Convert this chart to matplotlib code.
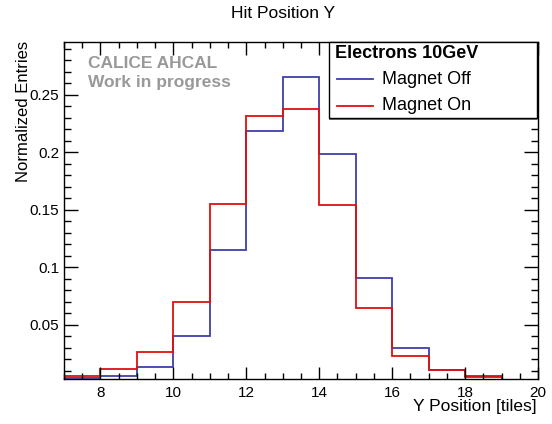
import matplotlib
matplotlib.use("Agg")
import matplotlib.pyplot as plt
from matplotlib.ticker import MultipleLocator, FixedLocator
from matplotlib.patches import Rectangle
from matplotlib.lines import Line2D

plt.rcParams['font.family'] = ['Liberation Sans', 'DejaVu Sans']

bin_edges = [7, 8, 9, 10, 11, 12, 13, 14, 15, 16, 17, 18, 19, 20]
magnet_off = [0.004, 0.006, 0.0138, 0.0404, 0.1155, 0.219, 0.2654, 0.1987, 0.0911, 0.0297, 0.0111, 0.0056, 0.002]
magnet_on = [0.006, 0.0117, 0.0265, 0.0703, 0.155, 0.232, 0.238, 0.1546, 0.0645, 0.023, 0.0106, 0.005, 0.002]
y_ticks = [0.05, 0.1, 0.15, 0.2, 0.25]
y_tick_labels = ["0.05", "0.1", "0.15", "0.2", "0.25"]
x_ticks = [8, 10, 12, 14, 16, 18, 20]

W, H = 552, 424
def fx(px):
    return px / W
def fy(py):
    return 1 - py / H

fig = plt.figure(figsize=(5.52, 4.24), dpi=100)
ax = fig.add_axes([fx(64), fy(379), (538-64)/W, (379-42)/H])

blue = '#3f3fa8'
red = '#e01010'
ax.stairs(magnet_off, bin_edges, color=blue, lw=1.3, baseline=None)
ax.stairs(magnet_on, bin_edges, color=red, lw=1.3, baseline=None)

ax.set_xlim(7, 20)
ax.set_ylim(0.003, 0.296)
ax.xaxis.set_major_locator(FixedLocator(x_ticks))
ax.xaxis.set_minor_locator(MultipleLocator(0.5))
ax.set_yticks(y_ticks)
ax.set_yticklabels(y_tick_labels)
ax.yaxis.set_minor_locator(MultipleLocator(0.01))
ax.tick_params(which='both', direction='in', top=True, right=True, labelsize=11)
ax.tick_params(which='major', axis='y', length=10, width=1)
ax.tick_params(which='minor', axis='y', length=5, width=1)
ax.tick_params(which='major', axis='x', length=9, width=1)
ax.tick_params(which='minor', axis='x', length=4.5, width=1)
ax.tick_params(axis='x', pad=5)
for s in ax.spines.values():
    s.set_linewidth(1.0)

fig.text(fx(283), fy(14), "Hit Position Y", ha='center', va='center', fontsize=12.5)
fig.text(fx(537), fy(407), "Y Position [tiles]", ha='right', va='center', fontsize=12.5)
fig.text(fx(24), fy(41), "Normalized Entries", ha='center', va='top', rotation=90, fontsize=12)

fig.text(fx(88), fy(63), "CALICE AHCAL", color='#999999', fontweight='bold', fontsize=12.5,
         ha='left', va='center')
fig.text(fx(88), fy(83), "Work in progress", color='#999999', fontweight='bold', fontsize=12.5,
         ha='left', va='center')

# legend box
lx0, lx1, ly0, ly1 = 329, 537, 42, 118
shadow = Rectangle((fx(lx0), fy(ly1 + 2)), (lx1 - lx0) / W, (ly1 - ly0) / H, transform=fig.transFigure,
                   facecolor='#777777', edgecolor='none', zorder=4)
fig.add_artist(shadow)
box = Rectangle((fx(lx0), fy(ly1)), (lx1 - lx0) / W, (ly1 - ly0) / H, transform=fig.transFigure,
                facecolor='white', edgecolor='black', lw=1.0, zorder=5)
fig.add_artist(box)
fig.text(fx(335), fy(53), "Electrons 10GeV", fontweight='bold', fontsize=13,
         ha='left', va='center', zorder=6)
for lab, c, yy in [("Magnet Off", blue, 79), ("Magnet On", red, 106)]:
    fig.add_artist(Line2D([fx(337), fx(373)], [fy(yy), fy(yy)], transform=fig.transFigure,
                          color=c, lw=1.3, zorder=6))
    fig.text(fx(382), fy(yy), lab, fontsize=13, ha='left', va='center', zorder=6)

fig.savefig("out.png", dpi=100)
